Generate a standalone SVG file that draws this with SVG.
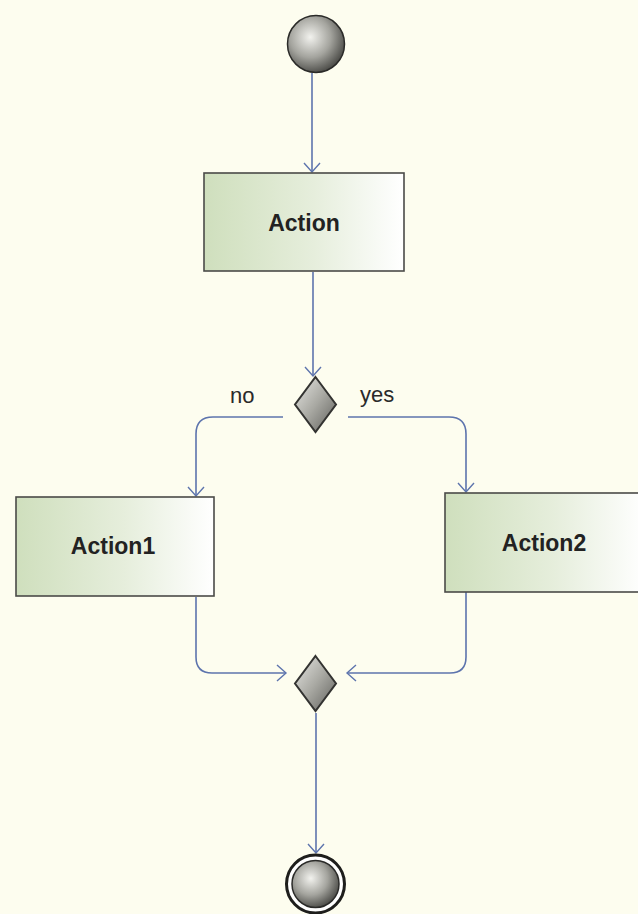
<svg xmlns="http://www.w3.org/2000/svg" width="638" height="914" viewBox="0 0 638 914">
  <defs>
    <linearGradient id="actFill" x1="0" y1="0" x2="1" y2="0">
      <stop offset="0" stop-color="#cfdfbd"/>
      <stop offset="0.55" stop-color="#e6eedc"/>
      <stop offset="1" stop-color="#ffffff"/>
    </linearGradient>
    <radialGradient id="ballFill" cx="0.4" cy="0.38" r="0.65">
      <stop offset="0" stop-color="#f2f2ee"/>
      <stop offset="0.55" stop-color="#a4a49e"/>
      <stop offset="1" stop-color="#4a4a46"/>
    </radialGradient>
    <linearGradient id="diaFill" x1="0" y1="0" x2="1" y2="1">
      <stop offset="0" stop-color="#e8e8e4"/>
      <stop offset="0.5" stop-color="#a9a9a3"/>
      <stop offset="1" stop-color="#5e5e5a"/>
    </linearGradient>
    <marker id="open" viewBox="0 0 20 20" refX="10" refY="10" markerWidth="20" markerHeight="20" markerUnits="userSpaceOnUse" orient="auto">
      <path d="M1,2 L10,10 L1,18" fill="none" stroke="#5d74ad" stroke-width="1.4"/>
    </marker>
    <style>
      .bg { fill: #fdfdef; }
      .act { fill: url(#actFill); stroke: #4a4a48; stroke-width: 1.6; }
      .dia { fill: url(#diaFill); stroke: #333331; stroke-width: 2; }
      .ball { fill: url(#ballFill); stroke: #2a2a28; stroke-width: 1.5; }
      .edge { fill: none; stroke: #5d74ad; stroke-width: 1.6; marker-end: url(#open); }
      .lbl { font-family: "Liberation Sans", Arial, sans-serif; font-weight: bold; font-size: 23px; fill: #222; text-anchor: middle; }
      .guard { font-family: "Liberation Sans", Arial, sans-serif; font-size: 22px; fill: #2a2a2a; }
    </style>
  </defs>

  <rect class="bg" x="0" y="0" width="638" height="914"/>

  <!-- connectors -->
  <g id="edges">
    <path class="edge" d="M312,73 L312,172"/>
    <path class="edge" d="M313,272 L313,376"/>
    <path class="edge" d="M283,417 L213,417 Q196,417 196,434 L196,496"/>
    <path class="edge" d="M348,417 L449,417 Q466,417 466,434 L466,492"/>
    <path class="edge" d="M196,597 L196,657 Q196,673 212,673 L286,673"/>
    <path class="edge" d="M466,592 L466,657 Q466,673 450,673 L347,673"/>
    <path class="edge" d="M316,713 L316,853"/>
    <text class="guard" x="230" y="403">no</text>
    <text class="guard" x="360" y="402">yes</text>
  </g>

  <!-- nodes -->
  <g id="start">
    <circle class="ball" cx="316" cy="44" r="28.5"/>
  </g>

  <g id="action">
    <rect class="act" x="204" y="173" width="200" height="98"/>
    <text class="lbl" x="304" y="231">Action</text>
  </g>

  <g id="decision">
    <polygon class="dia" points="315.5,377 336,404.5 315.5,432 295,404.5"/>
  </g>

  <g id="action1">
    <rect class="act" x="16" y="497" width="198" height="99"/>
    <text class="lbl" x="113" y="554">Action1</text>
  </g>

  <g id="action2">
    <rect class="act" x="445" y="493" width="200" height="99"/>
    <text class="lbl" x="544" y="551">Action2</text>
  </g>

  <g id="merge">
    <polygon class="dia" points="315.5,656 336,683.5 315.5,711 295,683.5"/>
  </g>

  <g id="final">
    <circle cx="315.5" cy="884" r="29" fill="#ffffff" stroke="#1e1e1c" stroke-width="3"/>
    <circle class="ball" cx="315.5" cy="884" r="23.5" stroke-width="1"/>
  </g>
</svg>
